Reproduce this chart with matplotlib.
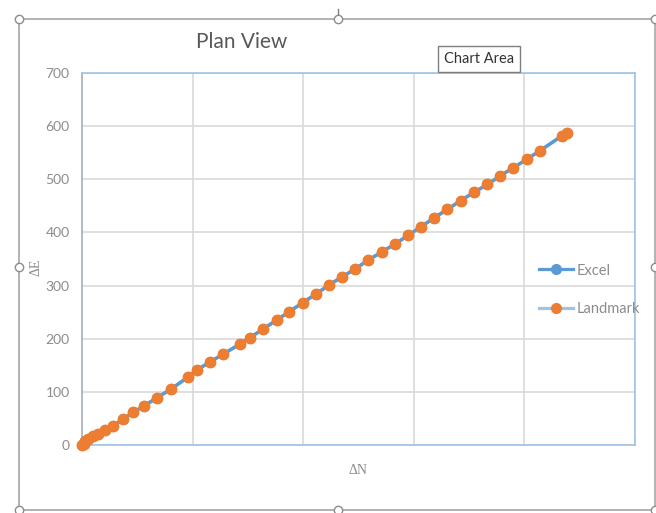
import matplotlib
matplotlib.use("Agg")
import matplotlib.pyplot as plt
from matplotlib.lines import Line2D

# Data (delta N, delta E)
dN = [0, 1.4, 2.7, 5.7, 10.2, 14.7, 20.8, 28.3, 36.8, 46.4, 56.5, 67.5, 80.5,
      96.1, 103.7, 115.7, 127.8, 142.9, 151.7, 163.9, 176.0, 187.4, 199.5,
      211.6, 223.3, 235.4, 246.8, 258.9, 271.0, 283.0, 295.0, 306.5, 318.3,
      330.3, 342.4, 354.4, 366.5, 377.9, 390.0, 402.1, 414.1, 433.7, 438.2]
dE = [0, 2.8, 6.6, 11.7, 16.9, 21.6, 28.2, 36.3, 48.4, 61.6, 74.2, 88.5, 105.4,
      128.0, 141.0, 156.2, 171.2, 190.1, 201.9, 218.3, 235.2, 250.8, 267.8,
      284.2, 301.1, 316.7, 331.2, 348.1, 363.2, 378.2, 394.6, 410.8, 427.2,
      443.5, 459.7, 475.5, 490.2, 506.2, 521.8, 537.6, 553.8, 581.5, 586.6]
series_names = ["Excel", "Landmark"]
y_ticks = [0, 100, 200, 300, 400, 500, 600, 700]
x_grid = [0, 100, 200, 300, 400, 500]

blue = "#5B9BD5"
light_blue = "#9DC3E6"
orange = "#ED7D31"
label_font = ["Lato", "DejaVu Sans"]

fig = plt.figure(figsize=(6.56, 5.13), dpi=100)
W, H = 656, 513

def fx(px):
    return px / W

def fy(py):
    return 1 - py / H

ax = fig.add_axes([fx(82), fy(445), fx(635) - fx(82), fy(73) - fy(445)])
# Landmark line sits below the Excel line, its markers on top
ax.plot(dN, dE, color=light_blue, lw=2.3, zorder=2)
ax.plot(dN, dE, color=blue, lw=2.5, marker="o", ms=7, mfc=blue, mec=blue,
        zorder=3, clip_on=False)
ax.plot(dN, dE, ls="none", marker="o", ms=7.5, mfc=orange, mec=orange,
        zorder=4, clip_on=False)

ax.set_xlim(0, 500)
ax.set_ylim(0, 700)
ax.set_xticks(x_grid)
ax.set_yticks(y_ticks)
ax.set_xticklabels([])
ax.tick_params(length=0, pad=9)
for lab in ax.get_yticklabels():
    lab.set_fontfamily(label_font)
    lab.set_fontsize(10)
    lab.set_color("#8c8c8c")
ax.grid(True, color="#d9d9d9", lw=1.2)
ax.set_axisbelow(True)
for s in ax.spines.values():
    s.set_color(light_blue)
    s.set_linewidth(1.2)
ax.spines["left"].set_color("#a9b1bc")

# axis titles
fig.text(fx(36), fy(267), "\u0394E", rotation=90, ha="center", va="center",
         family="Liberation Serif", fontsize=10, color="#8c8c8c")
fig.text(fx(358), fy(470), "\u0394N", ha="center", va="center",
         family="Liberation Serif", fontsize=10, color="#8c8c8c")

# chart title
fig.text(fx(242), fy(42), "Plan View", ha="center", va="center",
         family=label_font, fontsize=15, color="#595959")

# legend
handles = [Line2D([], [], color=blue, lw=2.3, marker="o", ms=7, mfc=blue, mec=blue),
           Line2D([], [], color=light_blue, lw=2.3, marker="o", ms=7, mfc=orange, mec=orange)]
leg = fig.legend(handles, series_names, loc="center left",
                 bbox_to_anchor=(fx(526), fy(290)), frameon=False,
                 handlelength=2.3, handletextpad=0.25, labelspacing=1.7,
                 prop={"family": label_font, "size": 10.5})
for t in leg.get_texts():
    t.set_color("#8c8c8c")

# tooltip "Chart Area"
fig.text(fx(479), fy(59), "Chart Area", ha="center", va="center",
         family=label_font, fontsize=10.5, color="#333333",
         bbox=dict(boxstyle="square,pad=0.4", fc="white", ec="#7f7f7f", lw=1))

# selection frame of the chart object
frame_col = "#a6a6a6"
fig.add_artist(Line2D([fx(19), fx(655)], [fy(19), fy(19)], color=frame_col, lw=1.2))
fig.add_artist(Line2D([fx(19), fx(655)], [fy(510), fy(510)], color=frame_col, lw=1.2))
fig.add_artist(Line2D([fx(19), fx(19)], [fy(19), fy(510)], color=frame_col, lw=1.2))
fig.add_artist(Line2D([fx(655), fx(655)], [fy(19), fy(510)], color=frame_col, lw=1.2))
fig.add_artist(Line2D([fx(338), fx(338)], [fy(9), fy(19)], color="#7f7f7f", lw=1))
for hx, hy in [(19, 19), (338, 19), (655, 19), (19, 267), (655, 267),
               (19, 510), (338, 510), (655, 510)]:
    fig.add_artist(Line2D([fx(hx)], [fy(hy)], marker="o", ms=6, mfc="white",
                          mec="#8c8c8c", mew=1))

fig.savefig("out.png", dpi=100)
